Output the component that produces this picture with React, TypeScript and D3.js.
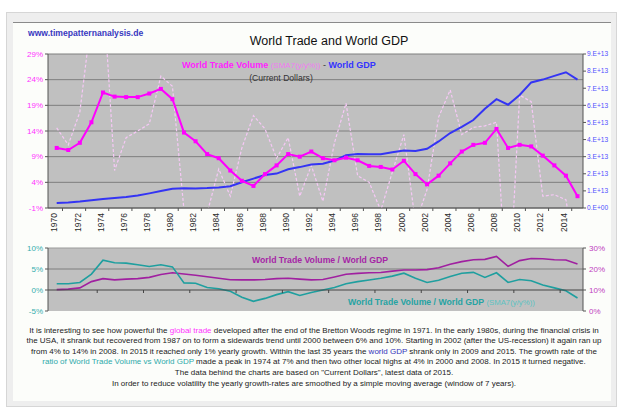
import React from "react";
import * as d3 from "d3";

// categories
const years = [
  1970, 1971, 1972, 1973, 1974, 1975, 1976, 1977, 1978, 1979,
  1980, 1981, 1982, 1983, 1984, 1985, 1986, 1987, 1988, 1989,
  1990, 1991, 1992, 1993, 1994, 1995, 1996, 1997, 1998, 1999,
  2000, 2001, 2002, 2003, 2004, 2005, 2006, 2007, 2008, 2009,
  2010, 2011, 2012, 2013, 2014, 2015,
];

// world trade volume, SMA7 of y/y % (left axis, top chart)
const tradeSma = [
  10.7, 10.3, 11.7, 15.7, 21.5, 20.7, 20.6, 20.6, 21.3, 22.2,
  20.2, 13.7, 12.0, 9.5, 8.7, 6.3, 4.3, 3.3, 5.6, 7.3,
  9.5, 9.0, 10.0, 8.7, 8.3, 8.8, 8.3, 7.2, 7.0, 6.5,
  8.2, 5.6, 3.6, 5.3, 7.7, 10.0, 11.3, 11.7, 14.4, 10.7,
  11.3, 11.0, 9.2, 7.3, 5.3, 1.3,
];

// world trade volume, raw y/y % (dashed)
const tradeYoy = [
  14.6, 11.3, 17.7, 36.0, 42.0, 6.3, 12.7, 14.0, 15.4, 24.7,
  22.7, -1.5, -6.0, -2.0, 6.6, 1.3, 10.7, 17.0, 14.4, 8.7,
  12.7, 1.3, 7.3, 0.3, 11.7, 19.4, 5.3, 4.0, -1.5, 6.0,
  13.3, -4.0, 2.6, 16.7, 22.0, 13.3, 14.7, 15.0, 15.7, -22.0,
  21.0, 19.7, 1.3, 1.6, 0.6, -13.0,
];

// world GDP, current dollars, trillions (right axis, top chart)
const worldGdp = [
  2.96, 3.26, 3.77, 4.59, 5.3, 5.9, 6.42, 7.26, 8.54, 9.93,
  11.23, 11.59, 11.41, 11.64, 12.02, 12.71, 15.07, 17.19, 19.24, 20.11,
  22.63, 23.9, 25.42, 25.86, 27.74, 30.87, 31.55, 31.44, 31.37, 32.52,
  33.57, 33.37, 34.64, 38.89, 43.81, 47.45, 51.43, 57.96, 63.61, 60.33,
  66.05, 73.38, 75.05, 77.19, 79.33, 75.05,
];

// world trade volume / world GDP, % (right axis, bottom chart)
const ratioLevel = [
  10.2, 10.4, 11.0, 14.0, 15.4, 14.8, 15.2, 15.4, 16.0, 17.4,
  18.2, 17.6, 17.0, 16.3, 15.6, 14.9, 14.8, 14.8, 15.0, 15.4,
  15.6, 15.2, 14.8, 15.0, 16.2, 17.5, 17.9, 18.2, 18.3, 19.0,
  19.5, 19.5, 19.7, 20.6, 22.3, 23.5, 24.4, 24.6, 26.0, 21.3,
  24.0, 25.0, 24.9, 24.4, 24.3, 22.4,
];

// ratio, SMA7 of y/y % (left axis, bottom chart)
const ratioSma = [
  1.5, 1.5, 1.8, 3.8, 7.1, 6.5, 6.4, 6.0, 5.6, 6.0,
  5.5, 1.7, 1.6, 0.6, 0.3, -0.3, -1.7, -2.7, -2.0, -1.1,
  -0.4, -1.3, -0.6, 0.0, 0.6, 1.5, 2.0, 2.4, 2.8, 3.3,
  4.0, 2.8, 1.8, 2.3, 3.2, 4.0, 4.2, 3.0, 4.1, 1.8,
  2.5, 2.2, 1.2, 0.5, -0.2, -1.9,
];

// tick labels
const topLeftTicks = [29, 24, 19, 14, 9, 4, -1];
const topRightTicks = [9, 8, 7, 6, 5, 4, 3, 2, 1, 0];
const bottomLeftTicks = [10, 5, 0, -5];
const bottomRightTicks = [30, 20, 10, 0];
const yearLabels = years.filter((y) => y % 2 === 0);

const FONT = "'Liberation Sans', Arial, Helvetica, sans-serif";
const TXT = "#222";

const paragraph = [
  [
    ["It is interesting to see how powerful the ", TXT],
    ["global trade", "#ff33ff"],
    [" developed after the end of the Bretton Woods regime in 1971. In the early 1980s, during the financial crisis in", TXT],
  ],
  [
    ["the USA, it shrank but recovered from 1987 on to form a sidewards trend until 2000 between 6% and 10%. Starting in 2002 (after the US-recession) it again ran up", TXT],
  ],
  [
    ["from 4% to 14% in 2008. In 2015 it reached only 1% yearly growth. Within the last 35 years the ", TXT],
    ["world GDP", "#3333bb"],
    [" shrank only in 2009 and 2015. The growth rate of the", TXT],
  ],
  [
    ["ratio of World Trade Volume vs World GDP", "#2eaaaa"],
    [" made a peak in 1974 at 7% and then two other local highs at 4% in 2000 and 2008. In 2015 it turned negative.", TXT],
  ],
  [["The data behind the charts are based on \"Current Dollars\", latest data of 2015.", TXT]],
  [["In order to reduce volatility the yearly growth-rates are smoothed by a simple moving average (window of 7 years).", TXT]],
];

const App = () => {
  const plotLeft = 48;
  const plotRight = 583;
  const topY0 = 54;
  const topY1 = 208;
  const botY0 = 248;
  const botY1 = 311;

  const x = d3
    .scaleLinear()
    .domain([years[0], years[years.length - 1]])
    .range([56.7, 577.5]);
  const step = x(1971) - x(1970);

  const yTop = d3.scaleLinear().domain([-1, 29]).range([topY1, topY0]);
  const yGdp = d3.scaleLinear().domain([0, 90]).range([topY1, topY0]);
  const yBot = d3.scaleLinear().domain([-5, 10]).range([botY1, botY0]);
  const yBotR = d3.scaleLinear().domain([0, 30]).range([botY1, botY0]);

  const lineOf = (vals: number[], scale: d3.ScaleLinear<number, number>) =>
    d3
      .line<number>()
      .x((_, i) => x(years[i]))
      .y((d) => scale(d))(vals) || "";

  const topTickYears = years.filter((y) => y % 2 === 1).map((y) => y - 0.5);
  const botTickYears = years.filter((y) => (y - 1973) % 4 === 0 && y < 2015).map((y) => y + 0.5);

  return (
    <svg
      width={620}
      height={408}
      style={{ position: "absolute", left: 0, top: 0, fontFamily: FONT }}
    >
      <rect x={0} y={0} width={620} height={408} fill="#ffffff" />
      {/* frame */}
      <rect x={6.5} y={12.5} width={610} height={394} fill="#eeeeee" stroke="#d6d6d6" />
      <rect x={13} y={22} width={598} height={379} fill="#fcfdfa" />
      <line x1={13} x2={611} y1={22.5} y2={22.5} stroke="#8a8a8a" />

      <defs>
        <clipPath id="topClip">
          <rect x={plotLeft} y={topY0} width={plotRight - plotLeft} height={topY1 - topY0} />
        </clipPath>
        <clipPath id="botClip">
          <rect x={plotLeft} y={botY0} width={plotRight - plotLeft} height={botY1 - botY0} />
        </clipPath>
      </defs>

      <text x={28} y={35.5} fontSize={8.6} fontWeight="bold" fill="#3838c0">
        www.timepatternanalysis.de
      </text>
      <text x={329} y={44.5} fontSize={12.5} textAnchor="middle" fill="#111">
        World Trade and World GDP
      </text>

      {/* top chart */}
      <rect x={plotLeft} y={topY0} width={plotRight - plotLeft} height={topY1 - topY0} fill="#c0c0c0" />
      {topLeftTicks.map((t) => (
        <line key={"g" + t} x1={plotLeft} x2={plotRight} y1={yTop(t)} y2={yTop(t)} stroke="#7e7e7e" strokeWidth={1} />
      ))}

      <text x={182} y={68} fontSize={9}>
        <tspan fontWeight="bold" fill="#ff22ff">World Trade Volume </tspan>
        <tspan fontSize={8} fill="#f27af2">(SMA7(y/y%))</tspan>
        <tspan fill="#333"> - </tspan>
        <tspan fontWeight="bold" fill="#3333ff">World GDP</tspan>
      </text>
      <text x={281} y={80.5} fontSize={8.6} textAnchor="middle" fill="#333">
        (Current Dollars)
      </text>

      <g clipPath="url(#topClip)">
        <path d={lineOf(tradeYoy, yTop)} fill="none" stroke="#f6c8f6" strokeWidth={1.2} strokeDasharray="3,2" />
      </g>
      <path d={lineOf(worldGdp, yGdp)} fill="none" stroke="#3434f4" strokeWidth={2} />
      <path d={lineOf(tradeSma, yTop)} fill="none" stroke="#ff00ff" strokeWidth={2} />
      {tradeSma.map((v, i) => (
        <rect key={"m" + i} x={x(years[i]) - 2} y={yTop(v) - 2} width={4} height={4} fill="#ff00ff" />
      ))}

      {/* top axes */}
      <line x1={plotLeft} x2={plotLeft} y1={topY0} y2={topY1} stroke="#555" />
      <line x1={plotRight} x2={plotRight} y1={topY0} y2={topY1} stroke="#555" />
      <line x1={plotLeft} x2={plotRight} y1={topY1} y2={topY1} stroke="#555" />
      {topLeftTicks.map((t) => (
        <g key={"l" + t}>
          <line x1={plotLeft - 3} x2={plotLeft} y1={yTop(t)} y2={yTop(t)} stroke="#555" />
          <text x={plotLeft - 5} y={yTop(t)} dy="0.35em" fontSize={8} textAnchor="end" fill="#ff33ff">
            {t}%
          </text>
        </g>
      ))}
      {topRightTicks.map((t) => (
        <g key={"r" + t}>
          <line x1={plotRight} x2={plotRight + 3} y1={yGdp(t * 10)} y2={yGdp(t * 10)} stroke="#555" />
          <text x={plotRight + 4} y={yGdp(t * 10)} dy="0.35em" fontSize={6.6} fill="#5050ff">
            {t === 0 ? "0.E+00" : `${t}.E+13`}
          </text>
        </g>
      ))}
      {topTickYears.map((t) => (
        <line key={"xt" + t} x1={x(t)} x2={x(t)} y1={topY1} y2={topY1 + 3} stroke="#555" />
      ))}
      {yearLabels.map((yr) => (
        <text
          key={"yl" + yr}
          transform={`translate(${x(yr) - step * 0.2},${topY1 + 5}) rotate(-90)`}
          dy="0.35em"
          fontSize={8.5}
          textAnchor="end"
          fill="#2a2a2a"
        >
          {yr}
        </text>
      ))}

      {/* bottom chart */}
      <rect x={plotLeft} y={botY0} width={plotRight - plotLeft} height={botY1 - botY0} fill="#c0c0c0" />
      <line x1={plotLeft} x2={plotRight} y1={yBot(5)} y2={yBot(5)} stroke="#7e7e7e" />
      <line x1={plotLeft} x2={plotRight} y1={yBot(10)} y2={yBot(10)} stroke="#9a9a9a" />
      <text x={252} y={263} fontSize={8.7} fontWeight="bold" fill="#a626a6">
        World Trade Volume / World GDP
      </text>
      <text x={348} y={305} fontSize={8.7}>
        <tspan fontWeight="bold" fill="#26a3a3">World Trade Volume / World GDP </tspan>
        <tspan fontSize={7.8} fill="#5cc2c2">(SMA7(y/y%))</tspan>
      </text>
      <g clipPath="url(#botClip)">
        <path d={lineOf(ratioLevel, yBotR)} fill="none" stroke="#a020a0" strokeWidth={1.6} />
        <path d={lineOf(ratioSma, yBot)} fill="none" stroke="#1f9f9f" strokeWidth={1.6} />
      </g>
      <line x1={plotLeft} x2={plotRight} y1={yBot(0)} y2={yBot(0)} stroke="#444" />
      {botTickYears.map((t) => (
        <line key={"bt" + t} x1={x(t)} x2={x(t)} y1={yBot(0)} y2={yBot(0) + 3} stroke="#444" />
      ))}
      <line x1={plotLeft} x2={plotLeft} y1={botY0} y2={botY1} stroke="#555" />
      <line x1={plotRight} x2={plotRight} y1={botY0} y2={botY1} stroke="#555" />
      {bottomLeftTicks.map((t) => (
        <g key={"bl" + t}>
          <line x1={plotLeft - 3} x2={plotLeft} y1={yBot(t)} y2={yBot(t)} stroke="#555" />
          <text x={plotLeft - 5} y={yBot(t)} dy="0.35em" fontSize={8} textAnchor="end" fill="#35aeae">
            {t}%
          </text>
        </g>
      ))}
      {bottomRightTicks.map((t) => (
        <g key={"br" + t}>
          <line x1={plotRight} x2={plotRight + 3} y1={yBotR(t)} y2={yBotR(t)} stroke="#555" />
          <text x={plotRight + 6} y={yBotR(t)} dy="0.35em" fontSize={8} fill="#c040c0">
            {t}%
          </text>
        </g>
      ))}

      {/* description */}
      {paragraph.map((segs, i) => (
        <text key={"p" + i} x={314} y={332.5 + i * 10.6} fontSize={8} textAnchor="middle">
          {segs.map(([s, c], j) => (
            <tspan key={j} fill={c}>
              {s}
            </tspan>
          ))}
        </text>
      ))}
    </svg>
  );
};

export default App;
